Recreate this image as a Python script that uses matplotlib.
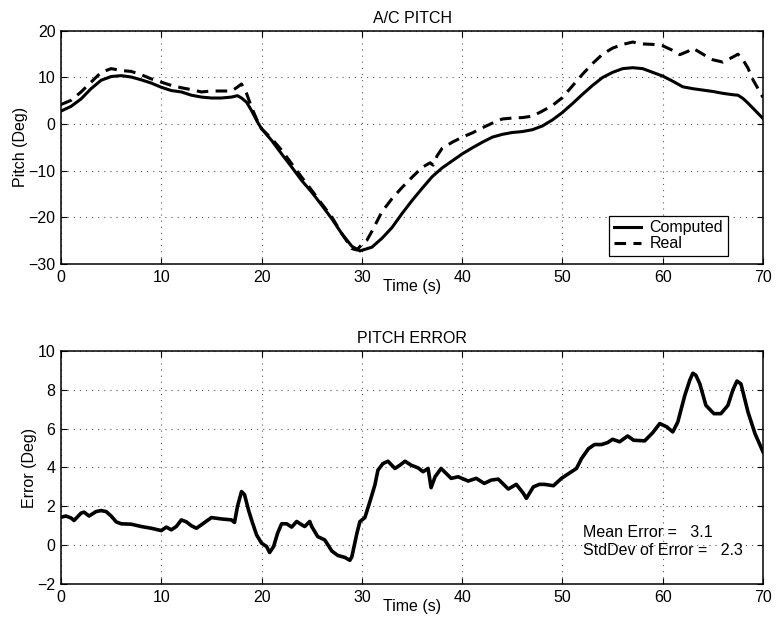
import matplotlib
matplotlib.use("Agg")
import matplotlib.pyplot as plt

plt.rcParams['font.family'] = ['Liberation Sans', 'DejaVu Sans']

# ---- data: A/C pitch ----
t_computed = [0, 1, 2, 3, 4, 5, 6, 7, 8, 9, 10, 11, 12, 13, 14, 15, 16, 17, 17.6, 18,
              18.5, 19, 19.5, 20, 21, 22, 23, 24, 25, 26, 27, 28, 29, 29.8, 31, 32,
              33, 34, 35, 36, 37, 38, 39, 40, 41, 42, 43, 44, 45, 46, 47, 48, 49, 50,
              51, 52, 53, 54, 55, 56, 57, 58, 59, 60, 61, 62, 63, 64, 65, 66, 67,
              67.5, 68, 68.5, 69, 69.5, 70]
pitch_computed = [2.8, 3.8, 5.4, 7.6, 9.4, 10.2, 10.4, 10.1, 9.5, 8.8, 7.9, 7.2, 6.9, 6.2,
                  5.8, 5.6, 5.6, 5.8, 6.1, 5.6, 4.7, 2.9, 0.8, -1.0, -3.5, -6.4, -9.2,
                  -12.1, -14.6, -17.4, -20.3, -23.5, -26.2, -27.2, -26.4, -24.5, -22.2,
                  -19.2, -16.4, -13.8, -11.3, -9.4, -7.9, -6.4, -5.1, -3.9, -2.8, -2.2,
                  -1.8, -1.6, -1.2, -0.4, 0.9, 2.5, 4.4, 6.4, 8.3, 10.0, 11.1, 11.9, 12.1,
                  11.9, 11.1, 10.3, 9.2, 8.0, 7.6, 7.3, 7.0, 6.6, 6.3, 6.2, 5.5, 4.5, 3.4,
                  2.3, 1.2]

t_real = [0, 1, 2, 3, 4, 5, 6, 7, 8, 9, 10, 11, 12, 13, 14, 15, 16, 17, 17.5, 18, 18.5,
          19, 19.5, 20, 21, 22, 23, 24, 25, 26, 27, 28, 29, 29.5, 30, 30.5, 31, 32, 33,
          34, 35, 36, 36.8, 37.1, 37.5, 38, 39, 40, 41, 42, 43, 44, 45, 46, 47, 48, 49,
          50, 51, 52, 53, 54, 55, 56, 57, 58, 59, 60, 61, 61.7, 62.5, 63, 64, 65, 66, 67,
          67.5, 68, 68.5, 69, 70]
pitch_real = [4.2, 5.1, 6.9, 9.0, 11.1, 11.9, 11.5, 11.3, 10.6, 9.7, 9.0, 8.3, 7.8, 7.4,
              6.9, 7.1, 7.1, 7.1, 7.8, 8.6, 6.6, 3.6, 1.1, -1.0, -3.1, -5.6, -8.5, -11.4,
              -14.2, -17.1, -19.9, -23.5, -26.7, -27.0, -25.8, -24.9, -23.0, -18.8, -16.0,
              -13.6, -11.4, -9.3, -8.3, -8.8, -6.8, -5.2, -3.9, -2.8, -1.9, -0.8, 0.2,
              1.1, 1.3, 1.4, 1.7, 2.8, 4.0, 5.7, 8.2, 10.7, 13.0, 15.0, 16.3, 17.1, 17.6,
              17.2, 17.1, 16.8, 15.8, 14.9, 15.6, 16.3, 15.0, 13.8, 13.3, 14.4, 15.0,
              13.8, 12.0, 9.5, 5.7]

# ---- data: pitch error ----
t_error = [0, 0.5, 1, 1.3, 2, 2.3, 2.8, 3.5, 4, 4.5, 5, 5.5, 6, 7, 8, 9, 10, 10.5, 11,
           11.5, 12, 12.5, 13, 13.5, 14, 15, 16, 17, 17.3, 17.6, 18, 18.3, 18.7, 19,
           19.5, 20, 20.5, 20.8, 21.2, 21.6, 22, 22.5, 23, 23.5, 24, 24.3, 24.8, 25,
           25.6, 26.3, 27, 27.6, 28.3, 28.8, 29, 29.5, 29.8, 30.3, 30.8, 31.3, 31.6,
           32.1, 32.6, 33.3, 33.8, 34.3, 34.9, 35.6, 36.1, 36.6, 36.9, 37.3, 37.9,
           38.9, 39.6, 40.6, 41.4, 42.2, 42.9, 43.6, 44.6, 45.4, 46.1, 46.4, 47.1,
           47.7, 48.2, 49.1, 49.9, 50.9, 51.4, 51.9, 52.6, 53.2, 53.9, 54.5, 55.0,
           55.7, 56.5, 57.1, 58.2, 59.0, 59.7, 60.4, 61.0, 61.5, 62.2, 62.7, 63.0,
           63.3, 63.7, 64.3, 65.1, 65.8, 66.5, 67.0, 67.4, 67.8, 68.5, 69.2, 70]
pitch_error = [1.44, 1.5, 1.4, 1.27, 1.65, 1.7, 1.5, 1.73, 1.78, 1.73, 1.5, 1.2, 1.1, 1.08,
               0.96, 0.87, 0.75, 0.93, 0.79, 0.96, 1.3, 1.2, 1.0, 0.87, 1.05, 1.42, 1.35,
               1.3, 1.17, 2.0, 2.76, 2.6, 1.8, 1.3, 0.53, 0.1, -0.07, -0.38, -0.07, 0.62,
               1.1, 1.1, 0.93, 1.22, 1.05, 0.96, 1.22, 0.96, 0.44, 0.27, -0.3, -0.53,
               -0.63, -0.78, -0.6, 0.6, 1.21, 1.42, 2.24, 3.1, 3.86, 4.2, 4.32, 3.95, 4.12,
               4.32, 4.12, 3.98, 3.78, 3.95, 2.96, 3.52, 3.95, 3.44, 3.52, 3.3, 3.44, 3.18,
               3.35, 3.4, 2.89, 3.13, 2.67, 2.41, 3.0, 3.13, 3.13, 3.06, 3.44, 3.78, 3.95,
               4.46, 4.97, 5.18, 5.18, 5.28, 5.45, 5.32, 5.62, 5.4, 5.37, 5.79, 6.26, 6.09,
               5.83, 6.34, 7.71, 8.5, 8.85, 8.75, 8.3, 7.2, 6.77, 6.77, 7.2, 8.0, 8.45, 8.3,
               6.85, 5.74, 4.8]

mean_error = 3.1
std_error = 2.3

x_ticks = [0, 10, 20, 30, 40, 50, 60, 70]
y_ticks_top = [-30, -20, -10, 0, 10, 20]
y_ticks_bot = [-2, 0, 2, 4, 6, 8, 10]

FS = 11.5

fig = plt.figure(figsize=(7.76, 6.3), dpi=100)
ax1 = fig.add_axes([0.0786, 0.581, 0.9047, 0.370])
ax2 = fig.add_axes([0.0786, 0.073, 0.9047, 0.370])


def style(ax):
    ax.set_xlim(0, 70)
    ax.set_xticks(x_ticks)
    ax.tick_params(direction='in', top=True, right=True, length=4, width=0.8,
                   labelsize=FS, pad=4)
    ax.grid(True, color='0.35', linestyle=(0, (1, 4.5)), linewidth=0.8)
    for s in ax.spines.values():
        s.set_linewidth(1.1)


ax1.plot(t_computed, pitch_computed, color='black', linewidth=2.2, label='Computed')
ax1.plot(t_real, pitch_real, color='black', linewidth=2.2,
         linestyle=(0, (3.8, 2.4)), label='Real')
style(ax1)
ax1.set_ylim(-30, 20)
ax1.set_yticks(y_ticks_top)
ax1.set_title('A/C PITCH', fontsize=FS, pad=6)
ax1.set_xlabel('Time (s)', fontsize=FS, labelpad=-4)
ax1.set_ylabel('Pitch (Deg)', fontsize=FS, labelpad=0)
leg = ax1.legend(loc='lower right', bbox_to_anchor=(0.95, 0.034), borderaxespad=0,
                 fancybox=False, edgecolor='black', framealpha=1, fontsize=FS,
                 handlelength=1.7, handletextpad=0.55, borderpad=0.3, labelspacing=0.05)
leg.get_frame().set_linewidth(0.9)

ax2.plot(t_error, pitch_error, color='black', linewidth=2.6)
style(ax2)
ax2.set_ylim(-2, 10)
ax2.set_yticks(y_ticks_bot)
ax2.set_title('PITCH ERROR', fontsize=FS, pad=6)
ax2.set_xlabel('Time (s)', fontsize=FS, labelpad=-4)
ax2.set_ylabel('Error (Deg)', fontsize=FS, labelpad=0)
ax2.text(52.0, 0.65, 'Mean Error =   %.1f' % mean_error, fontsize=FS, va='center')
ax2.text(52.0, -0.3, 'StdDev of Error =   %.1f' % std_error, fontsize=FS, va='center')

fig.savefig('out.png', dpi=100)
